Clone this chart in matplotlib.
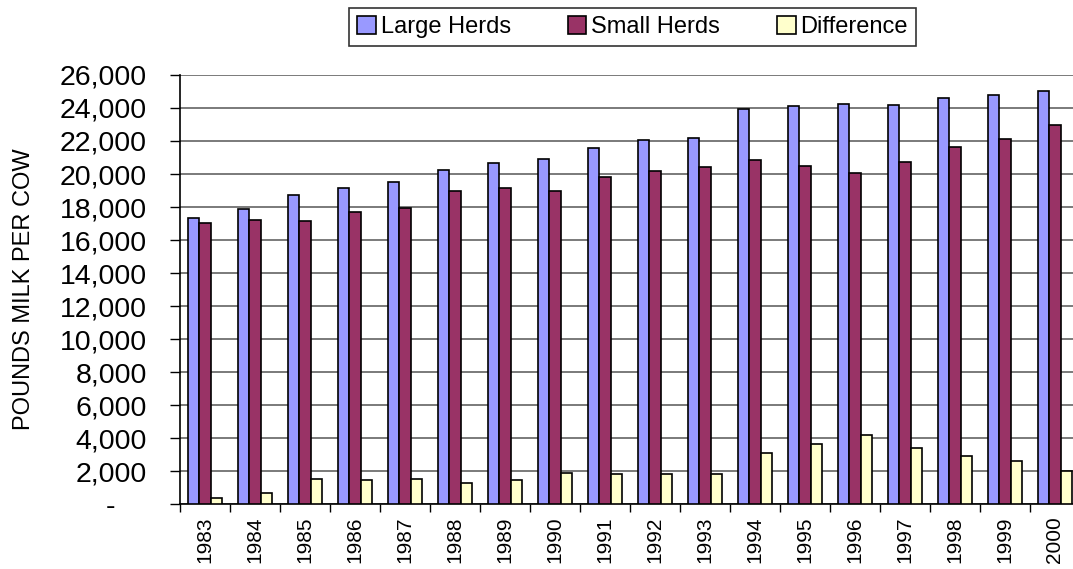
import numpy as np
import matplotlib
matplotlib.use("Agg")
import matplotlib.pyplot as plt
from matplotlib.ticker import FuncFormatter, FixedLocator

plt.rcParams['font.family'] = ['Liberation Sans', 'DejaVu Sans']

# datos
years = ['1983', '1984', '1985', '1986', '1987', '1988', '1989', '1990', '1991',
         '1992', '1993', '1994', '1995', '1996', '1997', '1998', '1999', '2000']
large_herds = [17350, 17860, 18730, 19150, 19500, 20220, 20680, 20910, 21560,
               22040, 22160, 23920, 24140, 24240, 24180, 24620, 24790, 25010]
small_herds = [17010, 17230, 17170, 17680, 17940, 18950, 19170, 18990, 19800,
               20180, 20400, 20830, 20470, 20040, 20730, 21640, 22120, 22990]
difference = [340, 640, 1540, 1460, 1500, 1260, 1480, 1880, 1800,
              1840, 1800, 3070, 3650, 4180, 3420, 2930, 2630, 1990]

fig = plt.figure(figsize=(10.73, 5.69), dpi=100)
ax = fig.add_axes([0.1678, 0.1142, 0.8387, 0.7540])

x = np.arange(len(years))
w = 0.225
ax.bar(x - w, large_herds, w, color='#9999FF', edgecolor='black', linewidth=1.2,
       label='Large Herds', zorder=3)
ax.bar(x, small_herds, w, color='#993366', edgecolor='black', linewidth=1.2,
       label='Small Herds', zorder=3)
ax.bar(x + w, difference, w, color='#FFFFCC', edgecolor='black', linewidth=1.2,
       label='Difference', zorder=3)

ax.set_xlim(-0.5, len(years) - 0.5)
ax.set_ylim(0, 26000)
ax.set_yticks(np.arange(0, 26001, 2000))
ax.yaxis.set_major_formatter(FuncFormatter(lambda v, p: '-    ' if v == 0 else f'{v:,.0f}'))
ax.tick_params(axis='y', labelsize=20.5, length=7, width=1, pad=17)
ax.grid(axis='y', color='#707070', linewidth=1.3, zorder=0)

# ticks en los bordes de categoria, etiquetas en el centro
ax.xaxis.set_major_locator(FixedLocator(np.arange(len(years) + 1) - 0.5))
ax.xaxis.set_major_formatter(FuncFormatter(lambda v, p: ''))
ax.xaxis.set_minor_locator(FixedLocator(x))
ax.set_xticklabels(years, minor=True, rotation=90, fontsize=15)
ax.tick_params(axis='x', which='major', length=5.5, width=1)
ax.tick_params(axis='x', which='minor', length=0, pad=9)

ax.spines['top'].set_visible(False)
ax.spines['right'].set_visible(False)
ax.spines['left'].set_linewidth(1.2)
ax.spines['bottom'].set_linewidth(1.2)

ax.set_ylabel('POUNDS MILK PER COW', fontsize=17)
ax.yaxis.set_label_coords(-0.161, 0.5)

leg = fig.legend(loc='center', bbox_to_anchor=(0.5895, 0.9525), ncol=3, fontsize=17,
                 frameon=True, fancybox=False, edgecolor='black', handlelength=0.8,
                 handleheight=0.8, handletextpad=0.2, columnspacing=2.4,
                 borderpad=0.35)
leg.get_frame().set_linewidth(1.2)

fig.savefig('out.png', dpi=100)
